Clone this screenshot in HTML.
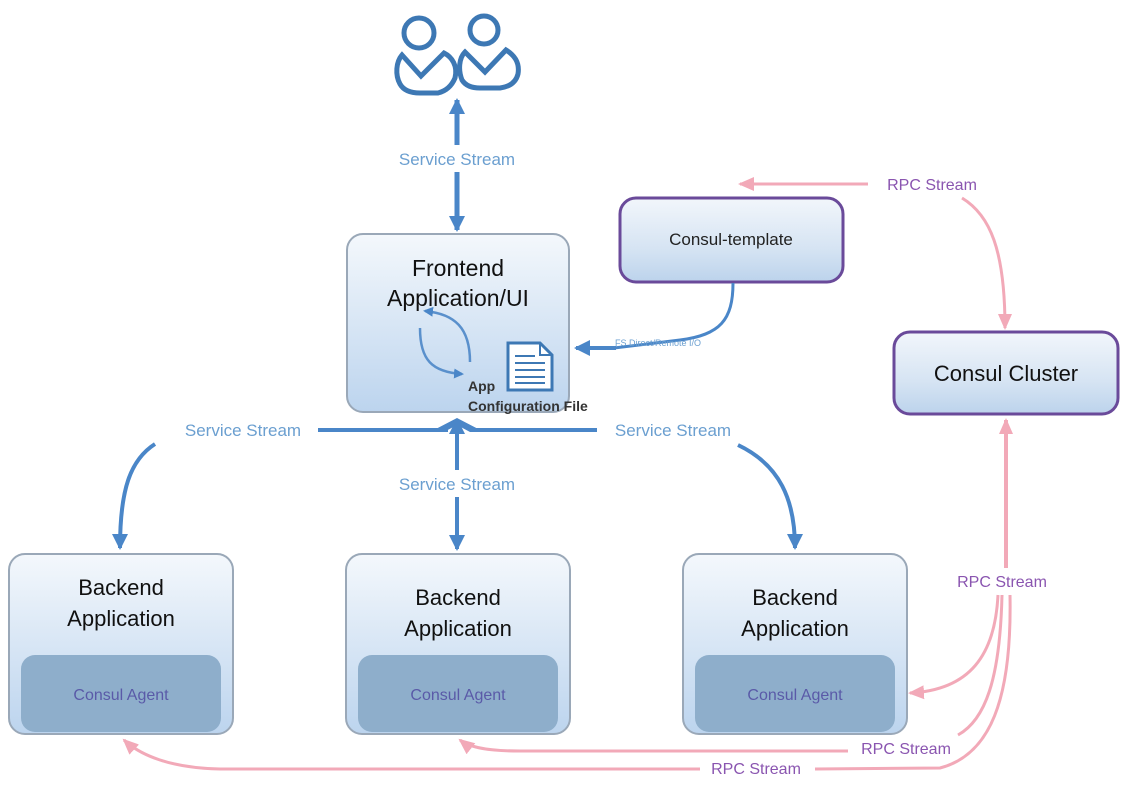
<!DOCTYPE html>
<html><head><meta charset="utf-8"><style>
html,body{margin:0;padding:0;background:#fff;}
svg{display:block;font-family:"Liberation Sans","DejaVu Sans",sans-serif;}
</style></head><body>
<svg width="1131" height="785" viewBox="0 0 1131 785" xmlns="http://www.w3.org/2000/svg">
<defs>
<linearGradient id="g1" x1="0" y1="0" x2="0" y2="1">
<stop offset="0" stop-color="#f4f8fc"/><stop offset="1" stop-color="#bcd4ee"/></linearGradient>
<linearGradient id="g2" x1="0" y1="0" x2="0" y2="1">
<stop offset="0" stop-color="#f2f6fb"/><stop offset="0.6" stop-color="#d6e4f3"/><stop offset="1" stop-color="#bcd3ec"/></linearGradient>
<marker id="ab" markerWidth="10" markerHeight="10" refX="8" refY="5" orient="auto" markerUnits="userSpaceOnUse"><path d="M0,0 L10,5 L0,10 z" fill="#4a86c8"/></marker>
<marker id="abB" markerWidth="16" markerHeight="16" refX="14" refY="8" orient="auto" markerUnits="userSpaceOnUse"><path d="M0,0 L16,8 L0,16 z" fill="#4a86c8"/></marker>
<marker id="ap" markerWidth="16" markerHeight="16" refX="14" refY="8" orient="auto" markerUnits="userSpaceOnUse"><path d="M0,1 L16,8 L0,15 z" fill="#f2a9b8"/></marker>
</defs>

<g fill="none" stroke="#3d78b4" stroke-width="5">
<circle cx="419" cy="33" r="15"/>
<path d="M402,55 C396,62 395,75 400,84 Q405,93 420,93 L438,93 Q450,90 455,78 C458,66 452,57 444,53 L421,76 Z"/>
<circle cx="484" cy="30" r="14"/>
<path d="M465,52 C459,58 458,70 462,80 Q467,88 480,88 L500,88 Q515,86 518,74 C520,62 514,55 506,50 L485,72 Z"/>
</g>

<line x1="457" y1="145" x2="457" y2="100" stroke="#4a86c8" stroke-width="5" marker-end="url(#abB)"/>
<line x1="457" y1="172" x2="457" y2="230" stroke="#4a86c8" stroke-width="5" marker-end="url(#abB)"/>
<text x="457" y="165" font-size="17" fill="#6b9fd0" text-anchor="middle">Service Stream</text>

<rect x="347" y="234" width="222" height="178" rx="16" fill="url(#g1)" stroke="#9aa8b8" stroke-width="2"/>
<text x="458" y="276" font-size="23" fill="#111" text-anchor="middle">Frontend</text>
<text x="458" y="306" font-size="23" fill="#111" text-anchor="middle">Application/UI</text>
<path d="M420,328 C420,360 432,372 462,374" fill="none" stroke="#5a90cc" stroke-width="2.5" marker-end="url(#ab)"/>
<path d="M470,362 C470,328 455,314 425,311" fill="none" stroke="#5a90cc" stroke-width="2.5" marker-end="url(#ab)"/>
<path d="M508,343 L540,343 L552,355 L552,390 L508,390 Z" fill="#fff" stroke="#3d78b4" stroke-width="3"/>
<path d="M540,343 L540,355 L552,355" fill="none" stroke="#3d78b4" stroke-width="2"/>
<g stroke="#3d78b4" stroke-width="2"><line x1="515" y1="356" x2="535" y2="356"/><line x1="515" y1="363" x2="545" y2="363"/><line x1="515" y1="370" x2="545" y2="370"/><line x1="515" y1="377" x2="545" y2="377"/><line x1="515" y1="383" x2="545" y2="383"/></g>
<text x="468" y="391" font-size="14" font-weight="bold" fill="#333">App</text>
<text x="468" y="411" font-size="14" font-weight="bold" fill="#333">Configuration File</text>

<rect x="620" y="198" width="223" height="84" rx="16" fill="url(#g2)" stroke="#6a4a9a" stroke-width="3"/>
<text x="731" y="245" font-size="17" fill="#222" text-anchor="middle">Consul-template</text>
<path d="M733,283 C733,320 720,335 680,340 L614,348" fill="none" stroke="#4a86c8" stroke-width="3"/>
<line x1="616" y1="348" x2="576" y2="348" stroke="#4a86c8" stroke-width="4" marker-end="url(#abB)"/>
<text x="615" y="346" font-size="9" fill="#6b9fd0">FS Direct/Remote I/O</text>

<rect x="894" y="332" width="224" height="82" rx="16" fill="url(#g2)" stroke="#6a4a9a" stroke-width="3"/>
<text x="1006" y="381" font-size="22" fill="#111" text-anchor="middle">Consul Cluster</text>

<line x1="868" y1="184" x2="740" y2="184" stroke="#f2a9b8" stroke-width="3" marker-end="url(#ap)"/>
<text x="932" y="190" font-size="16" fill="#8a55b0" text-anchor="middle">RPC Stream</text>
<path d="M962,198 C990,215 1005,250 1005,328" fill="none" stroke="#f2a9b8" stroke-width="3" marker-end="url(#ap)"/>

<line x1="318" y1="430" x2="448" y2="430" stroke="#4a86c8" stroke-width="4"/>
<line x1="597" y1="430" x2="470" y2="430" stroke="#4a86c8" stroke-width="4"/>
<path d="M430,432 L457,418 L484,432 L470,432 L457,425 L444,432 Z" fill="#4a86c8"/>
<text x="243" y="436" font-size="17" fill="#6b9fd0" text-anchor="middle">Service Stream</text>
<text x="673" y="436" font-size="17" fill="#6b9fd0" text-anchor="middle">Service Stream</text>
<path d="M155,444 C130,460 120,490 120,548" fill="none" stroke="#4a86c8" stroke-width="4" marker-end="url(#abB)"/>
<path d="M738,445 C780,465 795,500 795,548" fill="none" stroke="#4a86c8" stroke-width="4" marker-end="url(#abB)"/>
<line x1="457" y1="470" x2="457" y2="420" stroke="#4a86c8" stroke-width="4" marker-end="url(#abB)"/>
<line x1="457" y1="497" x2="457" y2="549" stroke="#4a86c8" stroke-width="4" marker-end="url(#abB)"/>
<text x="457" y="490" font-size="17" fill="#6b9fd0" text-anchor="middle">Service Stream</text>

<g>
<rect x="9" y="554" width="224" height="180" rx="16" fill="url(#g1)" stroke="#9aa8b8" stroke-width="2"/>
<rect x="21" y="655" width="200" height="77" rx="14" fill="#8eaecb"/>
<text x="121" y="595" font-size="22" fill="#111" text-anchor="middle">Backend</text>
<text x="121" y="626" font-size="22" fill="#111" text-anchor="middle">Application</text>
<text x="121" y="700" font-size="16" fill="#5a5aa8" text-anchor="middle">Consul Agent</text>
</g>
<g>
<rect x="346" y="554" width="224" height="180" rx="16" fill="url(#g1)" stroke="#9aa8b8" stroke-width="2"/>
<rect x="358" y="655" width="200" height="77" rx="14" fill="#8eaecb"/>
<text x="458" y="605" font-size="22" fill="#111" text-anchor="middle">Backend</text>
<text x="458" y="636" font-size="22" fill="#111" text-anchor="middle">Application</text>
<text x="458" y="700" font-size="16" fill="#5a5aa8" text-anchor="middle">Consul Agent</text>
</g>
<g>
<rect x="683" y="554" width="224" height="180" rx="16" fill="url(#g1)" stroke="#9aa8b8" stroke-width="2"/>
<rect x="695" y="655" width="200" height="77" rx="14" fill="#8eaecb"/>
<text x="795" y="605" font-size="22" fill="#111" text-anchor="middle">Backend</text>
<text x="795" y="636" font-size="22" fill="#111" text-anchor="middle">Application</text>
<text x="795" y="700" font-size="16" fill="#5a5aa8" text-anchor="middle">Consul Agent</text>
</g>

<line x1="1006" y1="568" x2="1006" y2="420" stroke="#f2a9b8" stroke-width="4" marker-end="url(#ap)"/>
<text x="1002" y="587" font-size="16" fill="#8a55b0" text-anchor="middle">RPC Stream</text>
<path d="M998,595 C995,655 970,690 910,693" fill="none" stroke="#f2a9b8" stroke-width="3" marker-end="url(#ap)"/>
<path d="M1002,595 C1000,680 985,720 958,735" fill="none" stroke="#f2a9b8" stroke-width="3"/>
<path d="M1010,595 C1012,700 990,755 940,768 L815,769" fill="none" stroke="#f2a9b8" stroke-width="3"/>
<path d="M848,751 L520,751 C490,751 470,748 460,740" fill="none" stroke="#f2a9b8" stroke-width="3" marker-end="url(#ap)"/>
<text x="906" y="754" font-size="16" fill="#8a55b0" text-anchor="middle">RPC Stream</text>
<path d="M700,769 L220,769 C170,768 140,755 124,740" fill="none" stroke="#f2a9b8" stroke-width="3" marker-end="url(#ap)"/>
<text x="756" y="774" font-size="16" fill="#8a55b0" text-anchor="middle">RPC Stream</text>
</svg>
</body></html>
